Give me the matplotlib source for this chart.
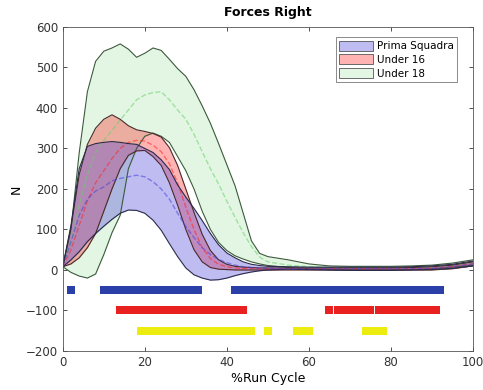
import numpy as np
import matplotlib.pyplot as plt

# % of run cycle
pct = [0, 2, 4, 6, 8, 10, 12, 14, 16, 18, 20, 22, 24, 26, 28, 30, 32, 34, 36, 38,
       40, 42, 44, 46, 48, 50, 55, 60, 65, 70, 75, 80, 85, 90, 95, 100]

# Prima Squadra (N)
ps_upper = [8, 110, 250, 305, 312, 315, 317, 315, 312, 310, 300, 290, 272, 248, 210, 180,
            152, 122, 90, 62, 42, 30, 20, 14, 11, 9, 8, 7, 7, 7, 7, 7, 8, 10, 14, 22]
ps_mean = [8, 70, 135, 175, 195, 205, 220, 226, 230, 234, 230, 218, 200, 175, 140, 107,
           80, 55, 38, 26, 18, 12, 8, 6, 5, 4, 3, 3, 3, 3, 3, 3, 3, 4, 8, 15]
ps_lower = [8, 25, 45, 70, 90, 108, 125, 140, 148, 147, 140, 123, 98, 65, 33, 5,
            -12, -20, -25, -24, -20, -14, -9, -5, -2, 0, 2, 1, 0, -1, -1, -1, 0, 1, 4, 10]

# Under 16 (N)
u16_upper = [8, 105, 235, 310, 350, 372, 383, 372, 356, 346, 342, 337, 328, 302, 258, 200,
             142, 88, 48, 25, 14, 9, 7, 6, 5, 5, 5, 5, 5, 5, 5, 5, 6, 8, 12, 20]
u16_mean = [8, 50, 110, 170, 215, 245, 275, 300, 315, 320, 318, 308, 292, 262, 215, 155,
            100, 55, 28, 14, 8, 5, 4, 4, 3, 3, 3, 3, 3, 3, 3, 3, 3, 4, 8, 16]
u16_lower = [8, 15, 30, 55, 90, 145, 200, 250, 283, 294, 295, 280, 258, 215, 160, 100,
             50, 20, 6, 2, 1, 0, 0, 0, 0, 0, 0, 0, 0, 0, 0, 0, 0, 0, 3, 10]

# Under 18 (N)
u18_upper = [8, 100, 289, 440, 515, 540, 548, 558, 545, 525, 535, 548, 542, 520, 497, 478,
             445, 405, 362, 312, 260, 208, 140, 72, 41, 33, 25, 15, 10, 9, 9, 9, 10, 12, 17, 25]
u18_mean = [8, 70, 160, 235, 290, 320, 345, 370, 395, 420, 432, 438, 440, 420, 395, 372,
            335, 292, 250, 212, 170, 130, 92, 58, 32, 20, 12, 8, 6, 5, 5, 5, 6, 8, 12, 18]
u18_lower = [8, -6, -15, -20, -10, 38, 92, 135, 250, 300, 330, 338, 330, 315, 280, 245,
             200, 145, 100, 68, 48, 35, 27, 20, 15, 11, 6, 3, 1, 0, 0, 0, 1, 3, 7, 12]

# significant differences (positions in % of cycle)
sig_ps = [2] + list(range(10, 32)) + [33, 42] + list(range(44, 91)) + [92]
sig_u16 = list(range(14, 45)) + [65, 67, 69, 71, 73, 75, 77, 79] + list(range(81, 92))
sig_u18 = list(range(19, 47)) + [50, 57, 58, 59, 60, 74, 76, 77, 78]

fig = plt.figure(figsize=(4.83, 3.9), dpi=100)
ax = fig.add_axes([0.130, 0.100, 0.849, 0.831])

groups = [
    ('Under 18', u18_lower, u18_mean, u18_upper, (0.40, 0.82, 0.40), 0.18, '#3c5a3c'),
    ('Under 16', u16_lower, u16_mean, u16_upper, (1.0, 0.15, 0.15), 0.35, '#4a2a2a'),
    ('Prima Squadra', ps_lower, ps_mean, ps_upper, (0.28, 0.25, 0.85), 0.35, '#2a2a4a'),
]
handles = {}
for name, lo, mu, hi, col, a, edge in groups:
    h = ax.fill_between(pct, lo, hi, color=col, alpha=a, linewidth=0, label=name)
    ax.plot(pct, lo, color=edge, lw=0.8)
    ax.plot(pct, hi, color=edge, lw=0.8)
    ax.plot(pct, mu, color=col, lw=1.0, ls='--', alpha=0.55)
    handles[name] = h

ax.plot(sig_ps, [-50] * len(sig_ps), 's', color='#2a3fa8', ms=5.2, mew=0)
ax.plot(sig_u16, [-100] * len(sig_u16), 's', color='#e82020', ms=5.2, mew=0)
ax.plot(sig_u18, [-150] * len(sig_u18), 's', color='#ecec10', ms=5.2, mew=0)

ax.set_xlim(0, 100)
ax.set_ylim(-200, 600)
ax.set_xticks(range(0, 101, 20))
ax.set_yticks(range(-200, 601, 100))
ax.tick_params(direction='in', top=True, right=True, labelsize=8.5,
               colors='#333333', length=3, width=0.6)
for s in ax.spines.values():
    s.set_color('#555555')
    s.set_linewidth(0.6)

ax.set_title('Forces Right', fontsize=9, fontweight='bold', pad=8)
ax.set_xlabel('%Run Cycle', fontsize=9, labelpad=2)
ax.set_ylabel('N', fontsize=9, labelpad=2)

leg = ax.legend([handles['Prima Squadra'], handles['Under 16'], handles['Under 18']],
                ['Prima Squadra', 'Under 16', 'Under 18'],
                loc='upper right', bbox_to_anchor=(0.975, 0.985), fontsize=7.5,
                frameon=True, fancybox=False, edgecolor='#555555',
                handlelength=3.2, handleheight=1.1, borderpad=0.35, labelspacing=0.3,
                handletextpad=0.4)
leg.get_frame().set_linewidth(0.6)
for p in leg.get_patches():
    p.set_edgecolor('#555555')
    p.set_linewidth(0.6)

fig.savefig('out.png', dpi=100)
